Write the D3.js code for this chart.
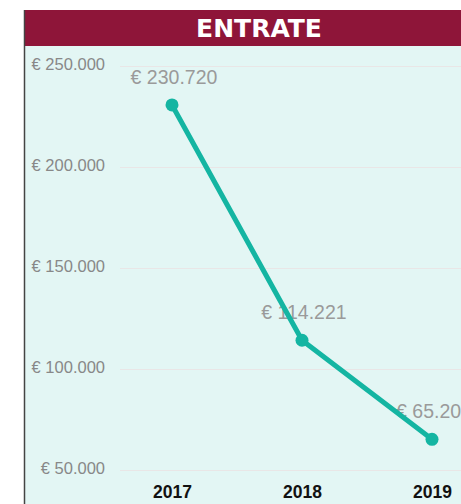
<!DOCTYPE html>
<html>
<head>
<meta charset="utf-8">
<script src="https://cdn.jsdelivr.net/npm/d3@7"></script>
<style>
    body { margin: 0; background: #fff; }
    svg { display: block; font-family: "Liberation Sans", Arial, sans-serif; }
</style>
</head>
<body>
<div id="chart"></div>
<script>
"use strict"

// chart data
const years = ["2017", "2018", "2019"]
const entrate = [230720, 114221, 65208]
const yTicks = [50000, 100000, 150000, 200000, 250000]
const title = "ENTRATE"

const WIDTH = 461, HEIGHT = 504
const PANEL = { left: 24, top: 10, header: 36 }

// italian style currency format: "€ 230.720"
const it = d3.formatLocale({ decimal: ",", thousands: ".", grouping: [3], currency: ["€ ", ""] })
const euro = it.format("$,.0f")

const svg = d3.select("#chart").append("svg")
    .attr("width", WIDTH).attr("height", HEIGHT)

// background panel and header
svg.append("rect").attr("x", PANEL.left).attr("y", PANEL.top + PANEL.header)
    .attr("width", WIDTH - PANEL.left).attr("height", HEIGHT - PANEL.top - PANEL.header)
    .attr("fill", "#e3f6f4")
svg.append("rect").attr("x", PANEL.left).attr("y", PANEL.top)
    .attr("width", WIDTH - PANEL.left).attr("height", PANEL.header)
    .attr("fill", "#8e1539")
svg.append("line").attr("x1", PANEL.left + 0.5).attr("x2", PANEL.left + 0.5)
    .attr("y1", PANEL.top).attr("y2", HEIGHT)
    .attr("stroke", "#444").attr("stroke-width", 1.5)
svg.append("text").attr("x", 259).attr("y", PANEL.top + 27)
    .attr("text-anchor", "middle").attr("fill", "#fff")
    .attr("font-size", 25).attr("font-weight", "bold")
    .attr("font-family", "'DejaVu Sans', Arial, sans-serif")
    .text(title)

// scales
const x = d3.scalePoint().domain(years).range([172, 432])
const y = d3.scaleLinear().domain([50000, 250000]).range([470, 66])

// y axis with gridlines
const yAxis = d3.axisLeft(y).tickValues(yTicks).tickFormat(euro)
    .tickSize(-(WIDTH - 120)).tickPadding(15)
svg.append("g").attr("transform", "translate(120,0)")
    .call(yAxis)
    .call(g => g.select(".domain").remove())
    .call(g => g.selectAll(".tick line").attr("stroke", "#e9e6e6").attr("stroke-width", 1))
    .call(g => g.selectAll(".tick text").attr("fill", "#888").attr("font-size", 16.5)
        .attr("font-family", "'Liberation Sans', Arial, sans-serif").attr("dy", "0.2em"))

// x axis labels
const xAxis = d3.axisBottom(x).tickSize(0).tickPadding(10)
svg.append("g").attr("transform", "translate(0,476)")
    .call(xAxis)
    .call(g => g.select(".domain").remove())
    .call(g => g.selectAll(".tick text").attr("fill", "#111").attr("font-size", 17.5)
        .attr("font-weight", "bold").attr("font-family", "'Liberation Sans', Arial, sans-serif"))

const data = years.map((yr, i) => ({ year: yr, value: entrate[i] }))

// data labels (drawn under the line)
svg.append("g").selectAll("text").data(data).join("text")
    .attr("x", d => x(d.year) + 2).attr("y", d => y(d.value) - 21)
    .attr("text-anchor", "middle").attr("fill", "#9a9a9a")
    .attr("font-size", 19.5).attr("font-family", "'Liberation Sans', Arial, sans-serif")
    .text(d => euro(d.value))

// line and points
const line = d3.line().x(d => x(d.year)).y(d => y(d.value))
svg.append("path").datum(data).attr("d", line)
    .attr("fill", "none").attr("stroke", "#14b5a2").attr("stroke-width", 5)
    .attr("stroke-linejoin", "round")
svg.append("g").selectAll("circle").data(data).join("circle")
    .attr("cx", d => x(d.year)).attr("cy", d => y(d.value)).attr("r", 6.5)
    .attr("fill", "#14b5a2")
</script>
</body>
</html>
